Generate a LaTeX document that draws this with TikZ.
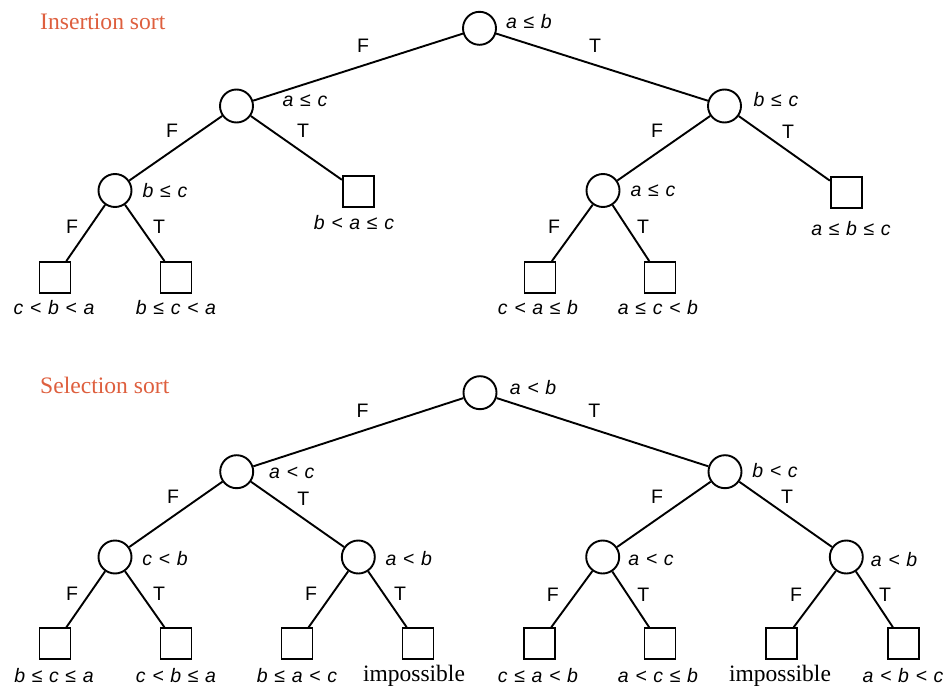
\documentclass[tikz,border=0pt]{standalone}
\usepackage{fontspec}
\setmainfont{Liberation Serif}
\setsansfont{Liberation Sans}
\definecolor{titlecol}{RGB}{222,95,62}
\newcommand{\rel}[1]{\hspace{0.34em}#1\hspace{0.34em}}
\newcommand{\LE}{\rel{≤}}
\newcommand{\LT}{\rel{<}}
\begin{document}
\begin{tikzpicture}[x=1pt,y=-1pt,
  test/.style={circle,draw,line width=1.9pt,minimum size=33pt,inner sep=0pt},
  leaf/.style={rectangle,draw,line width=1.9pt,minimum size=31pt,inner sep=0pt},
  edge/.style={line width=1.9pt},
  cond/.style={font=\sffamily\itshape\fontsize{19.5}{19.5}\selectfont,inner sep=0pt},
  tf/.style={font=\sffamily\fontsize{19.5}{19.5}\selectfont,inner sep=0pt},
  imp/.style={font=\rmfamily\fontsize{23.5}{23.5}\selectfont,inner sep=0pt},
  title/.style={font=\rmfamily\fontsize{23.6}{23.6}\selectfont,text=titlecol,inner sep=0pt,anchor=base west}]
\useasboundingbox (0,0) rectangle (945,687);

% ---------------- Insertion sort ----------------
\node[title] (t1) at (40,29.3) {Insertion sort};

\node[test] (a) at (479.5,28.3) {};
\node[test] (b) at (236.5,106) {};
\node[test] (c) at (724.5,106) {};
\node[test] (d) at (115,190.5) {};
\node[leaf] (e) at (358.3,191.3) {};
\node[test] (f) at (603,190.5) {};
\node[leaf] (g) at (846.3,192.3) {};
\node[leaf] (h) at (55,277.5) {};
\node[leaf] (i) at (176,277.5) {};
\node[leaf] (j) at (540,277.5) {};
\node[leaf] (k) at (660,277.5) {};

\draw[edge] (a) -- (b);
\draw[edge] (a) -- (c);
\draw[edge] (b) -- (d);
\draw[edge] (b) -- (e);
\draw[edge] (c) -- (f);
\draw[edge] (c) -- (g);
\draw[edge] (d) -- (h);
\draw[edge] (d) -- (i);
\draw[edge] (f) -- (j);
\draw[edge] (f) -- (k);

\node[cond] (la) at (529,22) {a\LE b};
\node[cond] (lb) at (305,101) {a\LE c};
\node[cond] (lc) at (776,100) {b\LE c};
\node[cond] (ld) at (165,190.5) {b\LE c};
\node[cond] (le) at (354,222.5) {b\LT a\LE c};
\node[cond] (lf) at (653,190.5) {a\LE c};
\node[cond] (lg) at (851,229) {a\LE b\LE c};
\node[cond] (lh) at (54,308) {c\LT b\LT a};
\node[cond] (li) at (176,308) {b\LE c\LT a};
\node[cond] (lj) at (538,308) {c\LT a\LE b};
\node[cond] (lk) at (658,308) {a\LE c\LT b};

\node[tf] (f1) at (363,46) {F};
\node[tf] (t1a) at (595,46) {T};
\node[tf] (f2) at (172,130.5) {F};
\node[tf] (t2) at (303,130.5) {T};
\node[tf] (f3) at (657,130.5) {F};
\node[tf] (t3) at (788,132) {T};
\node[tf] (f4) at (72,227) {F};
\node[tf] (t4) at (159,227) {T};
\node[tf] (f5) at (554,227) {F};
\node[tf] (t5) at (643,227) {T};

% ---------------- Selection sort ----------------
\node[title] (t2b) at (40,393.3) {Selection sort};

\node[test] (A) at (480,392.7) {};
\node[test] (B) at (236.7,471.7) {};
\node[test] (C) at (725,471.7) {};
\node[test] (D) at (115,557) {};
\node[test] (E) at (358.3,557) {};
\node[test] (F) at (602.7,557) {};
\node[test] (G) at (846.3,557) {};
\node[leaf] (H1) at (55,643.7) {};
\node[leaf] (H2) at (176,643.7) {};
\node[leaf] (H3) at (297,643.7) {};
\node[leaf] (H4) at (418,643.7) {};
\node[leaf] (H5) at (539.2,643.7) {};
\node[leaf] (H6) at (660,643.7) {};
\node[leaf] (H7) at (781.3,643.7) {};
\node[leaf] (H8) at (903.8,643.7) {};

\draw[edge] (A) -- (B);
\draw[edge] (A) -- (C);
\draw[edge] (B) -- (D);
\draw[edge] (B) -- (E);
\draw[edge] (C) -- (F);
\draw[edge] (C) -- (G);
\draw[edge] (D) -- (H1);
\draw[edge] (D) -- (H2);
\draw[edge] (E) -- (H3);
\draw[edge] (E) -- (H4);
\draw[edge] (F) -- (H5);
\draw[edge] (F) -- (H6);
\draw[edge] (G) -- (H7);
\draw[edge] (G) -- (H8);

\node[cond] (lA) at (533,387.5) {a\LT b};
\node[cond] (lB) at (291.7,473.3) {a\LT c};
\node[cond] (lC) at (775,471) {b\LT c};
\node[cond] (lD) at (165,558.5) {c\LT b};
\node[cond] (lE) at (408.7,559) {a\LT b};
\node[cond] (lF) at (651,560) {a\LT c};
\node[cond] (lG) at (894,560) {a\LT b};
\node[cond] (lH1) at (54,676) {b\LE c\LE a};
\node[cond] (lH2) at (176,676) {c\LT b\LE a};
\node[cond] (lH3) at (297,676) {b\LE a\LT c};
\node[imp] (lH4) at (414,676) {impossible};
\node[cond] (lH5) at (538,676) {c\LE a\LT b};
\node[cond] (lH6) at (658,676) {a\LT c\LE b};
\node[imp] (lH7) at (780,676) {impossible};
\node[cond] (lH8) at (903,676) {a\LT b\LT c};

\node[tf] (F1) at (362.7,410.7) {F};
\node[tf] (T1) at (594.3,410.7) {T};
\node[tf] (F2) at (173,497) {F};
\node[tf] (T2) at (303.3,498.3) {T};
\node[tf] (F3) at (657,497) {F};
\node[tf] (T3) at (787,497) {T};
\node[tf] (F4) at (72,594) {F};
\node[tf] (T4) at (159,594) {T};
\node[tf] (F5) at (311,594) {F};
\node[tf] (T5) at (400,594) {T};
\node[tf] (F6) at (552.7,595) {F};
\node[tf] (T6) at (643.3,595) {T};
\node[tf] (F7) at (796,595) {F};
\node[tf] (T7) at (885,595) {T};
\end{tikzpicture}
\end{document}
